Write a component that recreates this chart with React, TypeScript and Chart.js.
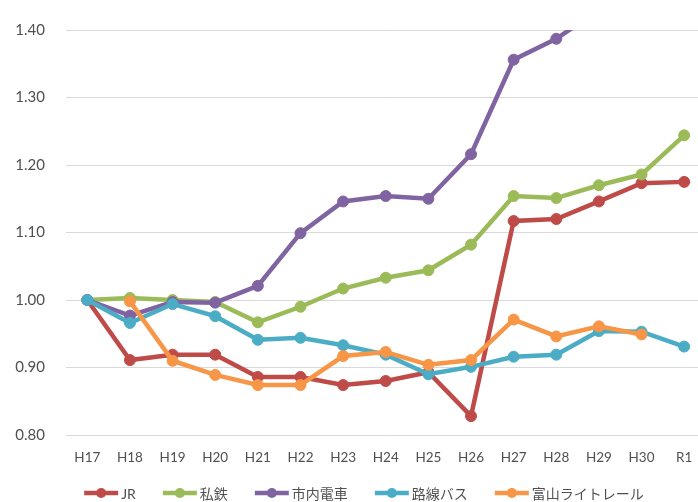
import React, { useEffect, useRef } from "react";
import { Chart, registerables } from "chart.js";

Chart.register(...registerables);

const categories = ["H17", "H18", "H19", "H20", "H21", "H22", "H23", "H24", "H25", "H26", "H27", "H28", "H29", "H30", "R1"];
const seriesNames = ["JR", "私鉄", "市内電車", "路線バス", "富山ライトレール"];
const jr = [1.0, 0.911, 0.919, 0.919, 0.886, 0.886, 0.874, 0.88, 0.893, 0.828, 1.117, 1.12, 1.146, 1.173, 1.175];
const shitetsu = [1.0, 1.003, 1.0, 0.997, 0.967, 0.99, 1.017, 1.033, 1.044, 1.082, 1.154, 1.151, 1.17, 1.186, 1.244];
const shinaiDensha = [1.0, 0.977, 0.997, 0.996, 1.021, 1.099, 1.146, 1.154, 1.15, 1.216, 1.356, 1.387, 1.43, 1.46, 1.5];
const rosenBus = [1.0, 0.966, 0.994, 0.976, 0.941, 0.944, 0.933, 0.919, 0.89, 0.901, 0.916, 0.919, 0.954, 0.953, 0.931];
const lightRail = [null, 0.998, 0.91, 0.889, 0.874, 0.874, 0.917, 0.923, 0.904, 0.911, 0.971, 0.946, 0.961, 0.949, null];
const yTicks = [0.8, 0.9, 1.0, 1.1, 1.2, 1.3, 1.4];
const colors = ["#BE4B48", "#9BBB59", "#8064A2", "#4BACC6", "#F79646"];

const FONT = "Lato, 'Noto Sans CJK JP', 'Noto Sans', sans-serif";
const TEXT = "#505050";

const legendPlugin = {
  id: "customLegend",
  afterDraw(chart: any) {
    const ctx = chart.ctx;
    ctx.save();
    ctx.font = `14px ${FONT}`;
    const lineLen = 34;
    const gap = 3;
    const spacing = 27;
    const widths = seriesNames.map((n) => lineLen + gap + ctx.measureText(n).width);
    const total = widths.reduce((a, b) => a + b, 0) + spacing * (seriesNames.length - 1);
    let x = 364 - total / 2;
    const y = 493;
    seriesNames.forEach((name, i) => {
      ctx.strokeStyle = colors[i];
      ctx.fillStyle = colors[i];
      ctx.lineWidth = 4.5;
      ctx.beginPath();
      ctx.moveTo(x, y);
      ctx.lineTo(x + lineLen, y);
      ctx.stroke();
      ctx.beginPath();
      ctx.arc(x + lineLen / 2, y, 5, 0, Math.PI * 2);
      ctx.fill();
      ctx.fillStyle = TEXT;
      ctx.textAlign = "left";
      ctx.textBaseline = "middle";
      ctx.fillText(name, x + lineLen + gap, y + 1);
      x += widths[i] + spacing;
    });
    ctx.restore();
  },
};

export default function App() {
  const ref = useRef<HTMLCanvasElement>(null);
  useEffect(() => {
    if (!ref.current) return;
    const data = [jr, shitetsu, shinaiDensha, rosenBus, lightRail];
    const orders = [4, 3, 2, 1, 0];
    const chart = new Chart(ref.current, {
      type: "line",
      data: {
        labels: categories,
        datasets: data.map((d, i) => ({
          label: seriesNames[i],
          data: d,
          borderColor: colors[i],
          backgroundColor: colors[i],
          pointBackgroundColor: colors[i],
          pointBorderColor: colors[i],
          borderWidth: 4.5,
          pointRadius: 5.5,
          pointBorderWidth: 1,
          tension: 0,
          order: orders[i],
          spanGaps: false,
        })),
      },
      options: {
        responsive: false,
        animation: false,
        layout: { padding: { top: 15, right: 3, left: 0, bottom: 0 } },
        plugins: { legend: { display: false }, tooltip: { enabled: false } },
        scales: {
          x: {
            offset: true,
            grid: { display: false, drawTicks: false, offset: true },
            border: { display: false },
            ticks: { color: TEXT, font: { family: FONT, size: 13.5 }, padding: 15, maxRotation: 0, autoSkip: false },
            afterFit: (s: any) => {
              s.height = 67;
            },
          },
          y: {
            min: 0.8,
            max: 1.4,
            grid: { color: "#D9D9D9", lineWidth: 1, drawTicks: false },
            border: { display: false },
            afterBuildTicks: (s: any) => {
              s.ticks = yTicks.map((v) => ({ value: v }));
            },
            ticks: {
              color: TEXT,
              font: { family: FONT, size: 15 },
              padding: 21,
              callback: (v: any) => Number(v).toFixed(2),
            },
            afterFit: (s: any) => {
              s.width = 66;
            },
          },
        },
      },
      plugins: [legendPlugin],
    });
    return () => chart.destroy();
  }, []);
  return (
    <div style={{ position: "fixed", left: 0, top: 0, width: 698, height: 502, overflow: "hidden", background: "#fff" }}>
      <canvas ref={ref} width={712} height={502} style={{ width: 712, height: 502, display: "block" }} />
    </div>
  );
}
